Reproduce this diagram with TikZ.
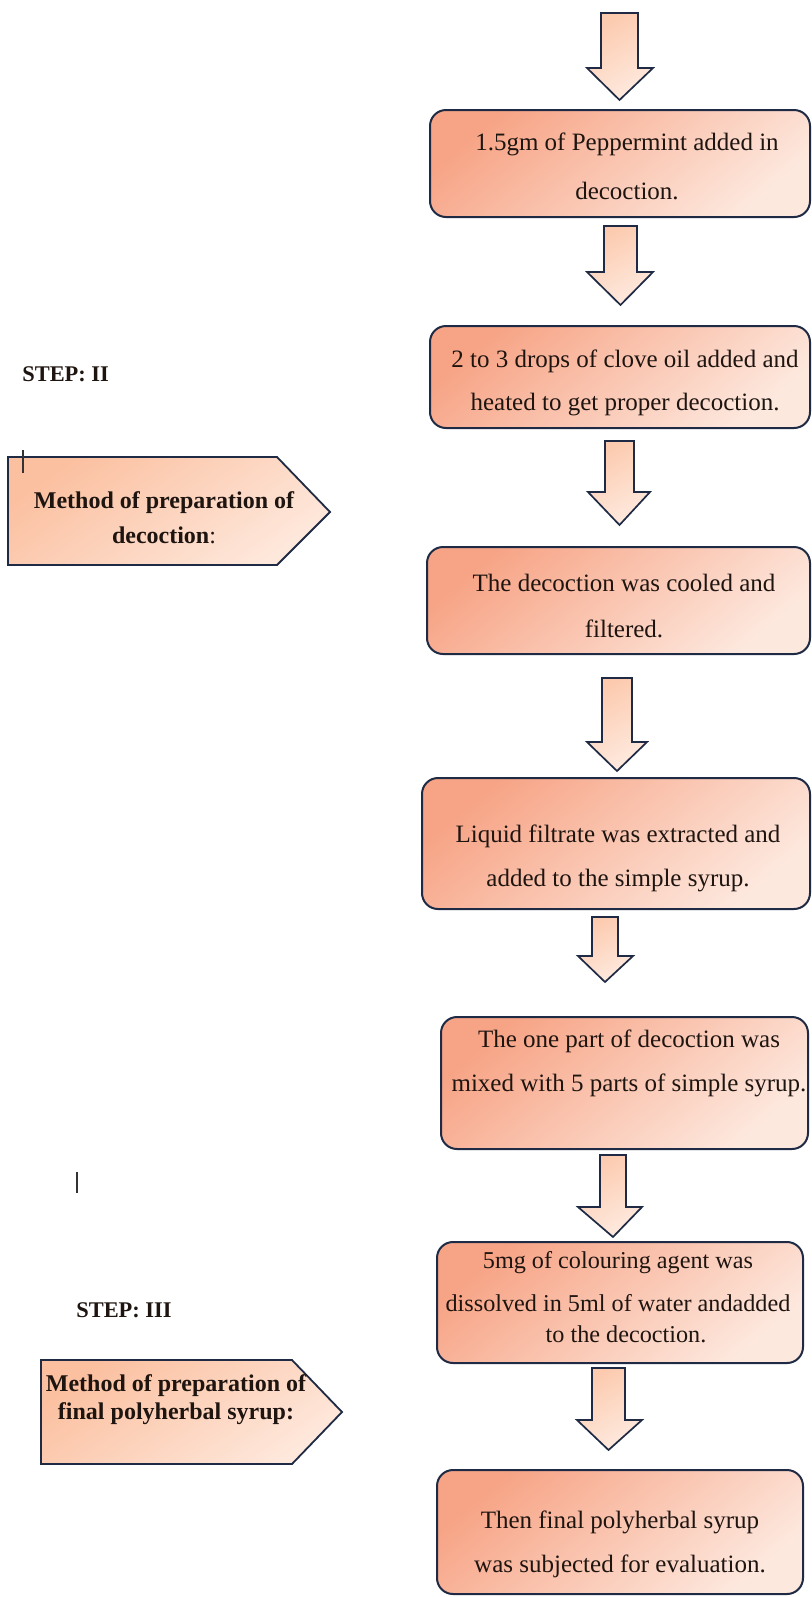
\documentclass[tikz,border=0pt]{standalone}
\usepackage{fontspec}
\setmainfont{Liberation Serif}
\usetikzlibrary{fit}
\definecolor{bd}{HTML}{1F2B45}
\definecolor{bxA}{HTML}{F7A486}
\definecolor{bxB}{HTML}{FDE8DE}
\definecolor{arA}{HTML}{FCCAAE}
\definecolor{arB}{HTML}{FEEADF}
\definecolor{pnA}{HTML}{FBC0A0}
\definecolor{pnB}{HTML}{FEE8DC}
\definecolor{tx}{HTML}{1E1410}
\tikzset{
  stepbox/.style={draw=bd, line width=1pt, rounded corners=8pt, top color=bxA, bottom color=bxB, shading angle=40, inner sep=0pt},
  flowarrow/.style={draw=bd, line width=0.85pt, line join=miter, top color=arA, bottom color=arB, shading angle=30},
  penta/.style={draw=bd, line width=0.9pt, line join=miter, top color=pnA, bottom color=pnB, shading angle=35},
  txt/.style={text=tx, align=center, inner sep=0pt, font=\fontsize{12.5}{22}\selectfont},
  bold/.style={text=tx, align=center, inner sep=0pt, font=\bfseries\fontsize{12}{14}\selectfont},
  steplabel/.style={text=tx, inner sep=0pt, anchor=west, font=\bfseries\fontsize{11.2}{13}\selectfont},
  cursor/.style={draw=black!80, line width=0.6pt}
}
\newcommand\blockarrow[7]{%
  \path[flowarrow] (#1,#3) -- (#2,#3) -- (#2,#4) -- (#6,#4) -- ({(#1+#2)/2},#7) -- (#5,#4) -- (#1,#4) -- cycle;}
\begin{document}
\begin{tikzpicture}[x=0.5pt,y=-0.5pt]
\useasboundingbox[fill=white] (0,0) rectangle (812,1597);

% boxes
\node[stepbox, fit={(430,110)(810,217)}] (b1) {};
\node[stepbox, fit={(430,326)(810,428)}] (b2) {};
\node[stepbox, fit={(427,547)(810,654)}] (b3) {};
\node[stepbox, fit={(422,778)(810,909)}] (b4) {};
\node[stepbox, fit={(441,1017)(808,1149)}] (b5) {};
\node[stepbox, fit={(437,1242)(803,1363)}] (b6) {};
\node[stepbox, fit={(437,1470)(803,1594)}] (b7) {};

% block arrows
\blockarrow{601}{638}{13}{68}{587}{653}{100}
\blockarrow{604}{637}{226}{272}{587}{653}{305}
\blockarrow{605}{634}{441}{492}{588}{650}{525}
\blockarrow{602}{632}{678}{742}{587}{647}{771}
\blockarrow{592}{618}{917}{956}{578}{633}{982}
\blockarrow{600}{626}{1155}{1207}{578}{642}{1237}
\blockarrow{592}{625}{1368}{1420}{577}{642}{1450}

% box texts
\node[txt, font=\fontsize{12.5}{24.5}\selectfont] (t1) at (627,166) {1.5gm of Peppermint added in\\decoction.};
\node[txt, font=\fontsize{12.5}{21.5}\selectfont] (t2) at (625,383) {2 to 3 drops of clove oil added and\\heated to get proper decoction.};
\node[txt, font=\fontsize{12.5}{23}\selectfont] (t3) at (624,606) {The decoction was cooled and\\filtered.};
\node[txt] (t4) at (618,858) {Liquid filtrate was extracted and\\added to the simple syrup.};
\node[txt] (t5) at (629,1063) {The one part of decoction was\\mixed with 5 parts of simple syrup.};
\node[txt, font=\fontsize{12.1}{21.5}\selectfont] (t6) at (618,1297) {5mg of colouring agent was\\dissolved in 5ml of water andadded\\[-6pt]\hspace*{8pt}to the decoction.};
\node[txt] (t7) at (620,1544) {Then final polyherbal syrup\\was subjected for evaluation.};

% left side
\node[steplabel] (s2) at (22,374) {STEP: II};
\node[steplabel] (s3) at (76,1310) {STEP: III};

\path[penta] (8,457) -- (277,457) -- (330,512) -- (277,565) -- (8,565) -- cycle;
\node[bold, font=\bfseries\fontsize{12}{17.5}\selectfont] (p1) at (164,518) {Method of preparation of\\\textbf{decoction}\textmd{:}};
\path[penta] (41,1360) -- (292,1360) -- (342,1412) -- (292,1464) -- (41,1464) -- cycle;
\node[bold] (p2) at (176,1400) {Method of preparation of\\final polyherbal syrup:};

% cursor marks
\draw[cursor] (23,450) -- (23,473);
\draw[cursor] (77,1172) -- (77,1193);
\end{tikzpicture}
\end{document}
